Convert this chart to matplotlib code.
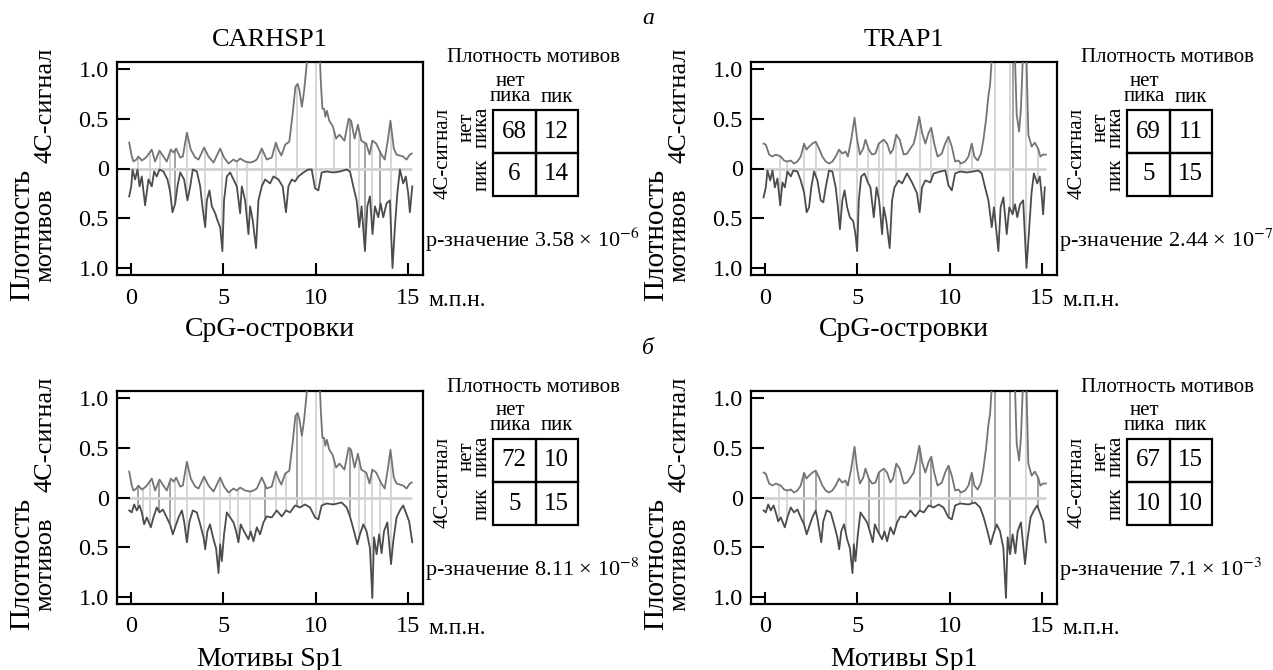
import numpy as np
import matplotlib
matplotlib.use("Agg")
import matplotlib.pyplot as plt
from matplotlib.patches import Rectangle

plt.rcParams['font.family'] = ['Liberation Serif', 'DejaVu Serif']
plt.rcParams['mathtext.fontset'] = 'stix'

# ---------------- data ----------------
genes = ["CARHSP1", "TRAP1"]
row_titles = ["CpG-островки", "Мотивы Sp1"]

car_4c_x = [-0.09, 0.05, 0.14, 0.3, 0.41, 0.59, 0.75, 0.86, 1.13, 1.31, 1.55, 1.76, 1.94, 2.16, 2.31, 2.45,
            2.67, 2.81, 3.03, 3.24, 3.48, 3.66, 3.96, 4.20, 4.47, 4.83, 5.04, 5.28, 5.55, 5.73, 5.91, 6.18,
            6.45, 6.63, 6.81, 7.08, 7.35, 7.62, 7.84, 8.0, 8.14, 8.35, 8.57, 8.75, 8.9, 9.02, 9.12, 9.25,
            9.37, 9.5, 9.7, 9.9, 10.05, 10.2, 10.28, 10.36, 10.45, 10.52, 10.6, 10.73, 10.91, 11.1, 11.28,
            11.55, 11.78, 11.91, 12.1, 12.28, 12.46, 12.73, 12.91, 13.06, 13.27, 13.55, 13.73, 13.91, 14.04,
            14.22, 14.37, 14.73, 14.91, 15.09, 15.19]
car_4c_y = [0.26, 0.12, 0.07, 0.09, 0.12, 0.08, 0.10, 0.12, 0.19, 0.07, 0.18, 0.12, 0.07, 0.19, 0.16, 0.20,
            0.11, 0.12, 0.36, 0.19, 0.11, 0.09, 0.21, 0.12, 0.06, 0.20, 0.11, 0.05, 0.09, 0.07, 0.10, 0.07,
            0.06, 0.07, 0.09, 0.20, 0.09, 0.11, 0.26, 0.18, 0.13, 0.24, 0.27, 0.55, 0.82, 0.85, 0.78, 0.62,
            0.78, 1.03, 1.6, 1.9, 1.7, 1.2, 0.85, 0.60, 0.60, 0.52, 0.58, 0.48, 0.43, 0.30, 0.34,
            0.28, 0.50, 0.48, 0.30, 0.44, 0.28, 0.25, 0.14, 0.28, 0.25, 0.14, 0.09, 0.30, 0.48,
            0.20, 0.14, 0.12, 0.09, 0.14, 0.15]

car_cpg_x = [-0.09, 0.02, 0.09, 0.23, 0.36, 0.47, 0.59, 0.77, 0.95, 1.13, 1.26, 1.40, 1.55, 1.76, 1.98, 2.12,
             2.25, 2.40, 2.52, 2.67, 2.88, 3.06, 3.21, 3.35, 3.57, 3.75, 3.87, 4.02, 4.11, 4.25, 4.38, 4.56,
             4.68, 4.83, 4.95, 5.04, 5.19, 5.37, 5.55, 5.73, 5.91, 6.00, 6.18, 6.36, 6.45, 6.59, 6.77, 6.90,
             7.08, 7.26, 7.53, 7.71, 7.98, 8.21, 8.39, 8.52, 8.70, 8.88, 9.06, 9.33, 9.60, 9.78, 9.96, 10.14,
             10.32, 10.59, 10.95, 11.31, 11.67, 11.85, 12.03, 12.21, 12.35, 12.48, 12.66, 12.79, 12.93, 13.07,
             13.20, 13.38, 13.51, 13.65, 13.83, 14.01, 14.15, 14.28, 14.41, 14.55, 14.73, 14.87, 15.00, 15.09, 15.22]
car_cpg_y = [0.28, 0.18, 0.01, 0.11, 0.01, 0.18, 0.08, 0.37, 0.11, 0.18, 0.03, 0.08, 0.01, 0.03, 0.11, 0.23,
             0.44, 0.35, 0.18, 0.04, 0.11, 0.32, 0.18, 0.01, 0.03, 0.18, 0.38, 0.59, 0.32, 0.22, 0.38, 0.45,
             0.52, 0.59, 0.83, 0.32, 0.08, 0.04, 0.11, 0.18, 0.45, 0.18, 0.32, 0.66, 0.38, 0.52, 0.80, 0.32,
             0.18, 0.11, 0.15, 0.08, 0.11, 0.18, 0.44, 0.18, 0.11, 0.13, 0.08, 0.04, 0.01, 0.01, 0.20, 0.22,
             0.04, 0.03, 0.04, 0.03, 0.01, 0.03, 0.18, 0.32, 0.59, 0.38, 0.83, 0.38, 0.28, 0.66,
             0.38, 0.49, 0.35, 0.49, 0.35, 0.32, 1.00, 0.59, 0.25, 0.01, 0.15, 0.08, 0.25, 0.44, 0.18]

car_sp1_x = [-0.09, 0.05, 0.18, 0.32, 0.47, 0.59, 0.72, 0.86, 1.08, 1.22, 1.40, 1.55, 1.73, 1.94, 2.12, 2.27,
             2.45, 2.58, 2.76, 2.88, 3.03, 3.17, 3.35, 3.57, 3.75, 3.93, 4.02, 4.14, 4.28, 4.47, 4.61, 4.74,
             4.83, 4.92, 5.04, 5.19, 5.37, 5.55, 5.69, 5.82, 5.94, 6.12, 6.36, 6.48, 6.63, 6.81, 6.99, 7.17,
             7.35, 7.62, 7.89, 8.16, 8.39, 8.61, 8.88, 9.15, 9.42, 9.69, 9.96, 10.14, 10.32, 10.59, 10.95,
             11.40, 11.67, 11.85, 12.07, 12.25, 12.39, 12.57, 12.75, 12.93, 13.06, 13.15, 13.29, 13.43, 13.56,
             13.69, 13.87, 14.07, 14.19, 14.37, 14.55, 14.73, 14.87, 15.05, 15.22]
car_sp1_y = [0.13, 0.15, 0.07, 0.13, 0.08, 0.15, 0.27, 0.20, 0.30, 0.20, 0.10, 0.15, 0.12, 0.20, 0.27, 0.37,
             0.27, 0.20, 0.13, 0.24, 0.45, 0.24, 0.13, 0.15, 0.27, 0.40, 0.52, 0.34, 0.27, 0.42, 0.51, 0.76,
             0.47, 0.64, 0.37, 0.15, 0.20, 0.25, 0.34, 0.45, 0.27, 0.34, 0.42, 0.34, 0.44, 0.30, 0.37, 0.25,
             0.19, 0.20, 0.13, 0.19, 0.13, 0.15, 0.08, 0.10, 0.07, 0.10, 0.20, 0.22, 0.08, 0.06, 0.07,
             0.05, 0.10, 0.19, 0.34, 0.47, 0.37, 0.27, 0.34, 0.51, 1.01, 0.40, 0.57, 0.37, 0.56,
             0.34, 0.25, 0.67, 0.44, 0.20, 0.13, 0.08, 0.15, 0.24, 0.45]

trap_4c_x = [-0.07, 0.05, 0.23, 0.41, 0.59, 0.86, 1.04, 1.22, 1.40, 1.58, 1.76, 1.94, 2.12, 2.25, 2.39, 2.57,
             2.75, 2.93, 3.11, 3.29, 3.47, 3.65, 3.83, 4.01, 4.19, 4.36, 4.49, 4.67, 4.85, 4.99, 5.14, 5.32,
             5.44, 5.62, 5.80, 5.98, 6.16, 6.29, 6.43, 6.61, 6.79, 6.93, 7.11, 7.29, 7.51, 7.69, 7.87, 8.05,
             8.19, 8.35, 8.50, 8.68, 8.86, 9.00, 9.16, 9.34, 9.57, 9.75, 9.93, 10.11, 10.29, 10.47, 10.60,
             10.83, 11.01, 11.19, 11.33, 11.51, 11.69, 11.82, 11.96, 12.09, 12.18, 12.27, 12.5, 12.9, 13.3,
             13.53, 13.62, 13.75, 13.85, 13.95, 14.05, 14.15, 14.25, 14.43, 14.6, 14.78, 14.9, 15.05, 15.2]
trap_4c_y = [0.25, 0.24, 0.14, 0.12, 0.14, 0.12, 0.08, 0.07, 0.08, 0.05, 0.07, 0.12, 0.25, 0.19, 0.22, 0.25,
             0.27, 0.20, 0.12, 0.07, 0.05, 0.07, 0.12, 0.19, 0.15, 0.17, 0.12, 0.29, 0.51, 0.29, 0.14, 0.20,
             0.29, 0.19, 0.14, 0.15, 0.25, 0.27, 0.29, 0.25, 0.15, 0.19, 0.34, 0.29, 0.14, 0.15, 0.20, 0.25,
             0.36, 0.52, 0.36, 0.25, 0.36, 0.41, 0.25, 0.12, 0.15, 0.25, 0.32, 0.22, 0.07, 0.08, 0.05,
             0.07, 0.12, 0.25, 0.12, 0.08, 0.15, 0.29, 0.49, 0.73, 0.84, 1.10, 2.2, 2.8, 2.4,
             1.1, 0.54, 0.37, 0.6, 1.1, 1.6, 1.1, 0.34, 0.22, 0.26, 0.20, 0.12, 0.14, 0.14]

trap_cpg_x = [-0.07, 0.05, 0.14, 0.29, 0.41, 0.54, 0.68, 0.83, 0.95, 1.08, 1.22, 1.40, 1.54, 1.76, 1.94, 2.12,
              2.26, 2.39, 2.51, 2.66, 2.84, 3.02, 3.16, 3.29, 3.47, 3.65, 3.83, 3.95, 4.06, 4.19, 4.31, 4.45,
              4.60, 4.78, 4.90, 4.99, 5.08, 5.21, 5.39, 5.57, 5.71, 5.89, 6.04, 6.18, 6.34, 6.43, 6.57, 6.75,
              6.88, 7.01, 7.24, 7.42, 7.69, 7.96, 8.23, 8.37, 8.50, 8.68, 8.95, 9.13, 9.49, 9.76, 9.93, 10.11,
              10.29, 10.56, 10.92, 11.28, 11.55, 11.73, 11.91, 12.09, 12.27, 12.39, 12.63, 12.75, 12.90, 13.08,
              13.22, 13.40, 13.53, 13.65, 13.80, 13.97, 14.15, 14.30, 14.42, 14.55, 14.73, 14.87, 14.96, 15.05, 15.14]
trap_cpg_y = [0.29, 0.19, 0.02, 0.12, 0.02, 0.19, 0.10, 0.37, 0.14, 0.19, 0.03, 0.08, 0.02, 0.03, 0.12, 0.24,
              0.44, 0.39, 0.19, 0.03, 0.12, 0.32, 0.34, 0.19, 0.02, 0.03, 0.19, 0.39, 0.61, 0.32, 0.22, 0.39,
              0.49, 0.53, 0.66, 0.83, 0.32, 0.08, 0.05, 0.14, 0.19, 0.49, 0.19, 0.32, 0.66, 0.39, 0.53, 0.80,
              0.32, 0.19, 0.12, 0.15, 0.05, 0.14, 0.25, 0.44, 0.19, 0.12, 0.14, 0.05, 0.03, 0.02, 0.17, 0.22,
              0.05, 0.03, 0.04, 0.03, 0.02, 0.05, 0.19, 0.32, 0.59, 0.39, 0.83, 0.39, 0.29, 0.66,
              0.39, 0.46, 0.36, 0.49, 0.36, 0.32, 1.00, 0.59, 0.25, 0.05, 0.15, 0.08, 0.25, 0.46, 0.19]

trap_sp1_x = [-0.07, 0.05, 0.18, 0.32, 0.47, 0.59, 0.72, 0.86, 1.08, 1.22, 1.40, 1.58, 1.76, 1.94, 2.12, 2.26,
              2.44, 2.57, 2.75, 2.87, 3.05, 3.16, 3.34, 3.56, 3.74, 3.92, 4.02, 4.13, 4.28, 4.45, 4.60, 4.74,
              4.81, 4.90, 5.03, 5.17, 5.35, 5.53, 5.68, 5.84, 5.95, 6.11, 6.34, 6.47, 6.61, 6.79, 6.97, 7.15,
              7.33, 7.60, 7.87, 8.14, 8.37, 8.59, 8.86, 9.13, 9.40, 9.66, 9.93, 10.11, 10.29, 10.56, 11.01,
              11.37, 11.64, 11.82, 12.04, 12.21, 12.36, 12.54, 12.72, 12.90, 13.04, 13.13, 13.26, 13.40, 13.55,
              13.67, 13.85, 14.07, 14.19, 14.37, 14.55, 14.73, 14.87, 15.05, 15.19]
trap_sp1_y = [0.13, 0.15, 0.07, 0.13, 0.08, 0.15, 0.24, 0.20, 0.30, 0.20, 0.10, 0.15, 0.12, 0.20, 0.27, 0.37,
              0.27, 0.20, 0.13, 0.24, 0.45, 0.24, 0.13, 0.15, 0.27, 0.40, 0.52, 0.34, 0.27, 0.42, 0.51, 0.76,
              0.47, 0.64, 0.37, 0.15, 0.20, 0.25, 0.34, 0.45, 0.27, 0.34, 0.42, 0.34, 0.44, 0.30, 0.37, 0.25,
              0.19, 0.20, 0.13, 0.19, 0.13, 0.15, 0.08, 0.10, 0.07, 0.10, 0.20, 0.22, 0.08, 0.06, 0.07,
              0.05, 0.10, 0.19, 0.34, 0.47, 0.37, 0.27, 0.34, 0.51, 1.01, 0.40, 0.57, 0.37, 0.56,
              0.34, 0.25, 0.67, 0.44, 0.20, 0.13, 0.08, 0.15, 0.24, 0.45]

# peak positions (Mb) marked by vertical stems
stems_light = {
    (0, 0): [0.36, 1.05, 1.55, 2.13, 3.03, 4.0, 4.92, 5.73, 6.27, 7.08, 7.84, 8.99, 10.0, 11.0, 12.34, 13.06, 14.09],
    (0, 1): [0.83, 1.2, 2.12, 2.75, 4.06, 4.99, 5.6, 6.15, 6.4, 7.1, 8.4, 8.99, 9.93, 10.53, 11.2, 12.45, 13.26, 14.1, 14.79],
    (1, 0): [0.68, 1.05, 2.4, 3.03, 3.96, 4.83, 5.37, 5.82, 6.45, 7.84, 8.41, 9.23, 10.0, 10.4, 11.0, 12.34, 12.65, 13.06, 13.46, 14.09],
    (1, 1): [0.77, 1.22, 4.37, 4.81, 6.43, 7.11, 8.4, 10.53, 14.1],
}
stems_dark = {
    (0, 0): [2.4, 11.84, 12.65, 13.46],
    (0, 1): [13.44],
    (1, 0): [0.36, 1.5, 2.09, 7.26, 8.99, 11.84],
    (1, 1): [2.12, 2.75, 5.62, 6.18, 8.37, 8.99, 9.94, 11.2, 12.45, 13.26, 14.79],
}

signal = {0: (car_4c_x, car_4c_y), 1: (trap_4c_x, trap_4c_y)}
density = {(0, 0): (car_cpg_x, car_cpg_y), (0, 1): (trap_cpg_x, trap_cpg_y),
           (1, 0): (car_sp1_x, car_sp1_y), (1, 1): (trap_sp1_x, trap_sp1_y)}

tables = {(0, 0): [[68, 12], [6, 14]], (0, 1): [[69, 11], [5, 15]],
          (1, 0): [[72, 10], [5, 15]], (1, 1): [[67, 15], [10, 10]]}
pvalues = {(0, 0): ("3.58", "-6"), (0, 1): ("2.44", "-7"),
           (1, 0): ("8.11", "-8"), (1, 1): ("7.1", "-3")}

xticks = [0, 5, 10, 15]
yticks = [1.0, 0.5, 0, -0.5, -1.0]
ytick_labels = ["1.0", "0.5", "0", "0.5", "1.0"]
panel_letters = ["а", "б"]

# ---------------- layout ----------------
W, H = 1273, 670
fig = plt.figure(figsize=(W / 100, H / 100), dpi=100)
ov = fig.add_axes([0, 0, 1, 1])
ov.set_xlim(0, W)
ov.set_ylim(H, 0)
ov.axis('off')

col_left = [117, 751]
row_top = [62, 391]
AW, AH = 306, 213

C_UP = '#747474'
C_LO = '#4c4c4c'
C_STEM_L = '#d6d6d6'
C_STEM_D = '#a2a2a2'
C_ZERO = '#d2d2d2'

for r in range(2):
    for c in range(2):
        l = col_left[c]; t = row_top[r]; rr = l + AW; b = t + AH
        ax = fig.add_axes([l / W, 1 - b / H, AW / W, AH / H])
        ux, uy = signal[c]
        lx, ly = density[(r, c)]
        uxa = np.array(ux); uya = np.array(uy)
        lxa = np.array(lx); lya = np.array(ly)
        for xs, colr in ((stems_light[(r, c)], C_STEM_L), (stems_dark[(r, c)], C_STEM_D)):
            xs = np.array(xs)
            ax.vlines(xs, -np.interp(xs, lxa, lya), np.interp(xs, uxa, uya),
                      color=colr, lw=1.4, zorder=1)
        ax.hlines(0, min(ux[0], lx[0]), max(ux[-1], lx[-1]), color=C_ZERO, lw=2.0, zorder=1)
        ax.plot(uxa, uya, color=C_UP, lw=1.3, zorder=3)
        ax.plot(lxa, -lya, color=C_LO, lw=1.3, zorder=3)
        ax.set_xlim(-0.75, 15.8)
        ax.set_ylim(-1.07, 1.07)
        ax.set_xticks(xticks)
        ax.set_xticklabels([str(v) for v in xticks])
        ax.set_yticks(yticks)
        ax.set_yticklabels(ytick_labels)
        ax.tick_params(direction='in', length=9, width=1.5, labelsize=17.5)
        ax.tick_params(axis='y', pad=6)
        ax.tick_params(axis='x', pad=9)
        for sp in ax.spines.values():
            sp.set_linewidth(1.6)

        cx = l + AW / 2
        if r == 0:
            ov.text(cx, t - 22, genes[c], ha='center', va='center', fontsize=19)
        ov.text(cx, b + 55, row_titles[r], ha='center', va='center', fontsize=20)
        ov.text(l + 311, b + 25, "м.п.н.", ha='left', va='center', fontsize=17)
        ov.text(l - 95, t + 173, "Плотность", rotation=90, ha='center', va='center', fontsize=21)
        ov.text(l - 72, t + 173, "мотивов", rotation=90, ha='center', va='center', fontsize=19)
        ov.text(l - 72, t + 43, "4C-сигнал", rotation=90, ha='center', va='center', fontsize=19)

        # contingency table
        bx = rr + 70; by = t + 48; cw = 42.5; ch = 43
        tab = tables[(r, c)]
        for i in range(2):
            for j in range(2):
                ov.add_patch(Rectangle((bx + j * cw, by + i * ch), cw, ch, fill=False,
                                       lw=1.6, ec='black'))
                ov.text(bx + (j + 0.5) * cw, by + (i + 0.5) * ch, str(tab[i][j]),
                        ha='center', va='center', fontsize=18)
        ov.text(bx + cw - 2, t - 4, "Плотность мотивов", ha='center', va='center', fontsize=15)
        ov.text(bx + 0.5 * cw - 4, t + 27, "нет\nпика", ha='center', va='center',
                fontsize=15, linespacing=0.78)
        ov.text(bx + 1.5 * cw, t + 35, "пик", ha='center', va='center', fontsize=15)
        ov.text(rr + 52, by + 0.5 * ch - 4, "нет\nпика", rotation=90, ha='center', va='center',
                fontsize=15, linespacing=0.7)
        ov.text(rr + 59, by + 1.5 * ch, "пик", rotation=90, ha='center', va='center', fontsize=15)
        ov.text(rr + 20, by + ch, "4C-сигнал", rotation=90, ha='center', va='center', fontsize=15)
        mant, ex = pvalues[(r, c)]
        ov.text(rr + 2, t + 178, "р-значение " + mant + " × 10$^{" + ex.replace('-', '−') + "}$",
                ha='left', va='center', fontsize=16)

ov.text(648, 18, panel_letters[0], ha='center', va='center', fontsize=17, style='italic')
ov.text(648, 348, panel_letters[1], ha='center', va='center', fontsize=17, style='italic')

fig.savefig("out.png", dpi=100)
